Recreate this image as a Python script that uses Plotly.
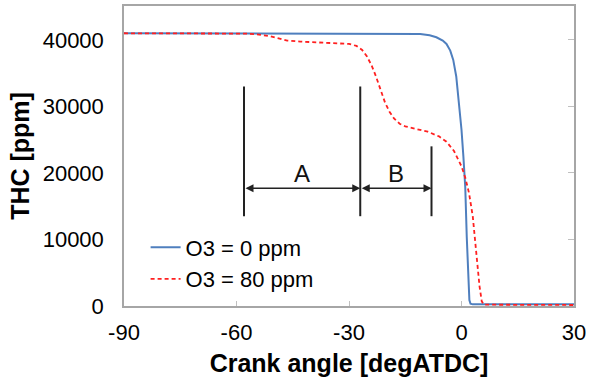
import plotly.graph_objects as go

# ---- data ----
blue_x = [-90, -20, -14, -11, -8.5, -6.7, -5.0, -4.0, -3.0, -2.2, -1.4, -0.6, 0.0, 0.5, 1.0, 1.4, 1.8, 2.1, 2.4, 3.0, 30]
blue_y = [41000, 41000, 40980, 40900, 40700, 40400, 39900, 39400, 38400, 37000, 34500, 30500, 26500, 22500, 17900, 10400, 2900, 900, 350, 250, 250]

red_x = [-90, -60, -57, -54, -51, -48.5, -46.5, -43, -38, -33, -30, -28, -26.5, -25.2, -24, -22.8, -21.6, -20.4, -19.2, -18, -16.5, -15, -12, -9, -6, -4, -2, 0, 1, 2, 3, 3.6, 4.2, 4.8, 5.4, 6, 30]
red_y = [41000, 41000, 40950, 40800, 40550, 40200, 39900, 39750, 39650, 39550, 39400, 39100, 38500, 37500, 36200, 34500, 32500, 30600, 29200, 28200, 27400, 27000, 26600, 26200, 25500, 24700, 23300, 21000, 19300, 17000, 13500, 10400, 6500, 3000, 700, 200, 150]

series_names = ["O3 = 0 ppm", "O3 = 80 ppm"]

x_ticks = [-90, -60, -30, 0, 30]
y_ticks = [0, 10000, 20000, 30000, 40000]

# annotation markers (interval boundaries, in crank angle)
bound_x = [-58, -27, -8]
bound_top = [33000, 33000, 24000]
bound_bottom = 13500
arrow_y = 17700
interval_labels = ["A", "B"]
label_y = 19900

fig = go.Figure()
fig.add_trace(go.Scatter(x=blue_x, y=blue_y, mode="lines", name=series_names[0],
                         line=dict(color="#4F7FBE", width=2)))
fig.add_trace(go.Scatter(x=red_x, y=red_y, mode="lines", name=series_names[1],
                         line=dict(color="#FF2020", width=1.8, dash="4px,3px")))
# dummy trace for right-side ticks axis
fig.add_trace(go.Scatter(x=[None], y=[None], yaxis="y2", showlegend=False, hoverinfo="skip"))

for bx, bt in zip(bound_x, bound_top):
    fig.add_shape(type="line", xref="x", yref="y", x0=bx, x1=bx, y0=bound_bottom, y1=bt,
                  line=dict(color="#222222", width=2))

for i, lab in enumerate(interval_labels):
    x0, x1 = bound_x[i], bound_x[i + 1]
    fig.add_annotation(x=x1, y=arrow_y, ax=x0, ay=arrow_y, xref="x", yref="y", axref="x", ayref="y",
                       text="", showarrow=True, arrowhead=2, arrowside="end+start",
                       arrowsize=1, arrowwidth=1.6, arrowcolor="#222222", standoff=0, startstandoff=0)
    fig.add_annotation(x=(x0 + x1) / 2, y=label_y, text=lab, showarrow=False,
                       font=dict(size=24, color="#111111", family="Arial, Liberation Sans"),
                       xref="x", yref="y")

axis_font = dict(family="Arial, Liberation Sans", size=22, color="#000000")
title_font = dict(family="Arial, Liberation Sans", size=25, color="#000000")

fig.update_layout(
    width=597, height=379,
    margin=dict(l=124, r=23, t=6, b=73, autoexpand=False),
    paper_bgcolor="white", plot_bgcolor="white",
    font=axis_font,
    showlegend=True,
    legend=dict(x=0.048, y=0.265, xanchor="left", yanchor="top", bgcolor="rgba(0,0,0,0)",
                font=dict(family="Arial, Liberation Sans", size=22, color="#000"),
                itemwidth=30, tracegroupgap=0),
    xaxis=dict(range=[-90, 30], tickvals=x_ticks, ticktext=[str(v) for v in x_ticks],
               showgrid=False, zeroline=False, showline=True, linecolor="#A6A6A6", linewidth=1.5,
               mirror=True, ticks="inside", ticklen=5, tickcolor="#C0C0C0",
               ticklabelstandoff=6,
               title=dict(text="<b>Crank angle [degATDC]</b>", font=title_font, standoff=10)),
    yaxis=dict(range=[0, 45100], tickvals=y_ticks, ticktext=[str(v) for v in y_ticks],
               showgrid=False, zeroline=False, showline=True, linecolor="#A6A6A6", linewidth=1.5,
               mirror=True, ticks="", ticklabelstandoff=14,
               title=dict(text="<b>THC [ppm]</b>", font=title_font, standoff=6)),
    yaxis2=dict(range=[0, 45100], overlaying="y", side="right", anchor="x",
                tickvals=y_ticks, showticklabels=False, ticks="inside", ticklen=6,
                tickcolor="#C0C0C0", showgrid=False, zeroline=False, showline=False),
)

fig.write_html("out.html", config={"displayModeBar": False},
               post_script="document.body.style.margin='0';")
